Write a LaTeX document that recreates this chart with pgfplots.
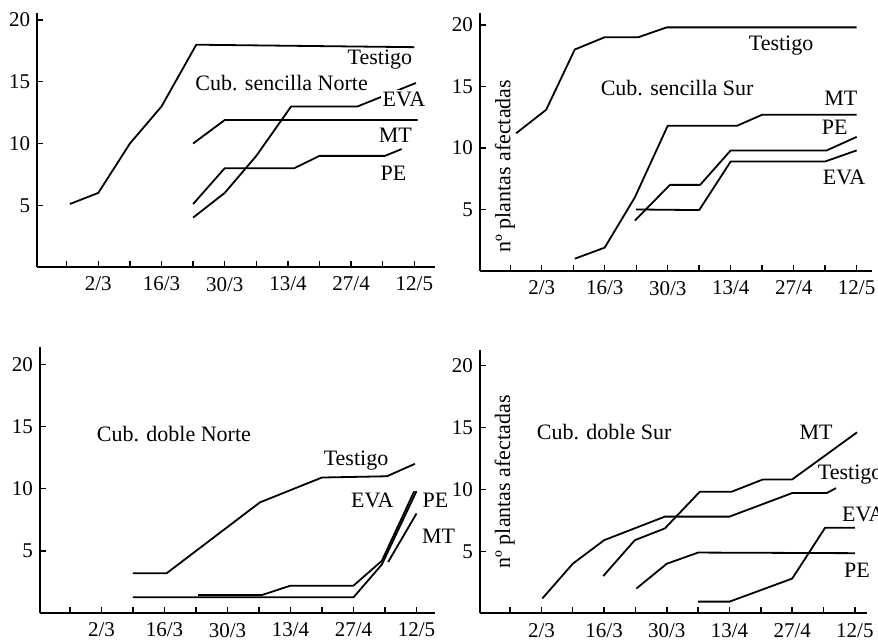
\documentclass[border=0pt]{standalone}
\usepackage{fontspec}
\setmainfont{Liberation Serif}
\usepackage{pgfplots}
\pgfplotsset{compat=1.18}
\newcommand{\lbl}{\fontsize{11}{13}\selectfont}
\pgfplotsset{panel/.style={
  scale only axis, anchor=south west,
  axis x line=bottom, axis y line=left,
  axis line style={-, line width=1pt, black},
  tick align=inside, major tick length=3pt,
  tick style={line width=0.7pt, black},
  ymin=0, ytick={5,10,15,20},
  xtick={0,...,11},
  xticklabels={,2/3,,16/3,,30/3,,13/4,,27/4,,12/5},
  clip=false,
  no markers,
  cycle list={{black, solid, line width=0.9pt}},
  every axis plot/.append style={line width=0.9pt, line join=round},
  tick label style={font=\fontsize{10.5}{12}\selectfont},
  x tick label style={yshift=-1.5pt},
  /pgf/number format/assume math mode=true,
}}
\begin{document}
\begin{tikzpicture}
\useasboundingbox (0,0) rectangle (439pt,321.5pt);
\clip (0,0) rectangle (439pt,321.5pt);

% Panel 1: Cub. sencilla Norte
\begin{axis}[panel, at={(18.65pt,188pt)}, width=198.8pt, height=127.2pt,
  xmin=-0.93, xmax=11.65, ymax=20.6]
\addplot coordinates {(0.1,5.1)(1,6)(2,10)(3,13)(4.1,18)(11,17.8)};
\addplot coordinates {(4,10)(5,11.9)(11.1,11.9)};
\addplot coordinates {(4,4)(5,6)(6,9)(7.1,13)(9.2,13)(11.05,14.9)};
\addplot coordinates {(4,5.1)(5,8)(7.2,8)(8,9)(10.07,9)(10.6,9.55)};
\node[font=\lbl] at (axis cs:9.91,16.8) {Testigo};
\node[font=\lbl] at (axis cs:6.8,14.9) {Cub. sencilla Norte};
\node[font=\lbl, fill=white, inner sep=1pt] at (axis cs:10.67,13.6) {EVA};
\node[font=\lbl] at (axis cs:10.4,10.7) {MT};
\node[font=\lbl] at (axis cs:10.34,7.6) {PE};
\end{axis}

% Panel 2: Cub. sencilla Sur
\begin{axis}[panel, at={(240pt,186pt)}, width=196.2pt, height=129.2pt,
  xmin=-0.96, xmax=11.5, ymax=21]
\addplot coordinates {(0.19,11.2)(1.14,13.1)(2.05,18)(3,19)(4.07,19)(4.97,19.8)(11,19.8)};
\addplot coordinates {(2.05,1)(3,1.9)(3.96,6)(5,11.8)(7.2,11.8)(8,12.7)(11,12.7)};
\addplot coordinates {(3.96,4.1)(5.07,7)(6.03,7)(7,9.8)(10.05,9.8)(11,10.9)};
\addplot coordinates {(4,5)(6,4.95)(7,8.9)(10,8.9)(11,9.8)};
\node[font=\lbl] at (axis cs:8.6,18.3) {Testigo};
\node[font=\lbl] at (axis cs:5.3,14.85) {Cub. sencilla Sur};
\node[font=\lbl] at (axis cs:10.5,14) {MT};
\node[font=\lbl] at (axis cs:10.3,11.65) {PE};
\node[font=\lbl] at (axis cs:10.6,7.6) {EVA};
\node[font=\lbl, rotate=90] at (axis cs:-0.17,8.5) {nº plantas afectadas};
\end{axis}

% Panel 3: Cub. doble Norte
\begin{axis}[panel, at={(20pt,15pt)}, width=197.7pt, height=133pt,
  xmin=-0.95, xmax=11.6, ymax=21.4]
\addplot coordinates {(2,3.2)(3.07,3.2)(6.03,8.9)(8,10.9)(10.06,11)(10.95,12)};
\addplot coordinates {(4.07,1.45)(6.1,1.45)(7,2.2)(9,2.2)(9.9,4.2)(10.93,9.8)};
\addplot coordinates {(2,1.26)(9,1.26)(9.9,3.9)(11,9.8)};
\addplot coordinates {(10.1,4.1)(11,8)};
\node[font=\lbl] at (axis cs:3.3,14.4) {Cub. doble Norte};
\node[font=\lbl] at (axis cs:9.08,12.3) {Testigo};
\node[font=\lbl] at (axis cs:9.6,9.05) {EVA};
\node[font=\lbl] at (axis cs:11.6,9.1) {PE};
\node[font=\lbl] at (axis cs:11.7,6.2) {MT};
\end{axis}

% Panel 4: Cub. doble Sur
\begin{axis}[panel, at={(240pt,14.85pt)}, width=193.7pt, height=131.4pt,
  xmin=-0.96, xmax=11.4, ymax=21.2]
\addplot coordinates {(1.03,1.2)(2,4)(3,5.9)(4.94,7.8)(7,7.8)(9,9.7)(10.1,9.7)(10.4,10.1)};
\addplot coordinates {(2.97,3)(3.98,5.9)(4.94,6.85)(6.05,9.8)(7.06,9.8)(8.07,10.8)(9,10.8)(11.07,14.6)};
\addplot coordinates {(4.03,2)(5,4)(6,4.9)(11,4.85)};
\addplot coordinates {(6,0.94)(7,0.94)(9,2.8)(10.05,6.9)(11,6.9)};
\node[font=\lbl] at (axis cs:3.0,14.65) {Cub. doble Sur};
\node[font=\lbl] at (axis cs:9.76,14.6) {MT};
\node[font=\lbl, anchor=west, inner sep=0pt] at (axis cs:9.81,11.15) {Testigo};
\node[font=\lbl, anchor=west, inner sep=0pt] at (axis cs:10.58,8.0) {EVA};
\node[font=\lbl] at (axis cs:11.07,3.45) {PE};
\node[font=\lbl, rotate=90] at (axis cs:-0.17,10.6) {nº plantas afectadas};
\end{axis}
\end{tikzpicture}
\end{document}
